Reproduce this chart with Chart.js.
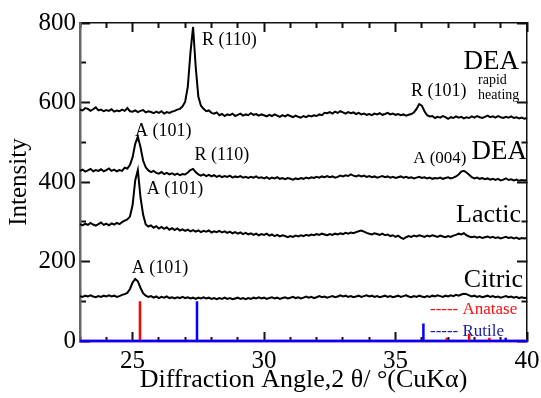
<!DOCTYPE html>
<html lang="en">
<head>
<meta charset="UTF-8">
<title>XRD patterns</title>
<script src="https://cdn.jsdelivr.net/npm/chart.js"></script>
<style>
  body { margin: 0; background: #fff; }
</style>
</head>
<body>
<canvas id="xrdChart" width="541" height="398"></canvas>
<script>
// 2theta grid (deg), 0.1 step
const angles = [
  23.0, 23.1, 23.2, 23.3, 23.4, 23.5, 23.6, 23.7, 23.8, 23.9,
  24.0, 24.1, 24.2, 24.3, 24.4, 24.5, 24.6, 24.7, 24.8, 24.9,
  25.0, 25.1, 25.2, 25.3, 25.4, 25.5, 25.6, 25.7, 25.8, 25.9,
  26.0, 26.1, 26.2, 26.3, 26.4, 26.5, 26.6, 26.7, 26.8, 26.9,
  27.0, 27.1, 27.2, 27.3, 27.4, 27.5, 27.6, 27.7, 27.8, 27.9,
  28.0, 28.1, 28.2, 28.3, 28.4, 28.5, 28.6, 28.7, 28.8, 28.9,
  29.0, 29.1, 29.2, 29.3, 29.4, 29.5, 29.6, 29.7, 29.8, 29.9,
  30.0, 30.1, 30.2, 30.3, 30.4, 30.5, 30.6, 30.7, 30.8, 30.9,
  31.0, 31.1, 31.2, 31.3, 31.4, 31.5, 31.6, 31.7, 31.8, 31.9,
  32.0, 32.1, 32.2, 32.3, 32.4, 32.5, 32.6, 32.7, 32.8, 32.9,
  33.0, 33.1, 33.2, 33.3, 33.4, 33.5, 33.6, 33.7, 33.8, 33.9,
  34.0, 34.1, 34.2, 34.3, 34.4, 34.5, 34.6, 34.7, 34.8, 34.9,
  35.0, 35.1, 35.2, 35.3, 35.4, 35.5, 35.6, 35.7, 35.8, 35.9,
  36.0, 36.1, 36.2, 36.3, 36.4, 36.5, 36.6, 36.7, 36.8, 36.9,
  37.0, 37.1, 37.2, 37.3, 37.4, 37.5, 37.6, 37.7, 37.8, 37.9,
  38.0, 38.1, 38.2, 38.3, 38.4, 38.5, 38.6, 38.7, 38.8, 38.9,
  39.0, 39.1, 39.2, 39.3, 39.4, 39.5, 39.6, 39.7, 39.8, 39.9,
  40.0
];

// intensities (offset traces)
const deaRapid = [
  582, 580, 586, 584, 579, 583, 588, 580, 582, 578,
  581, 579, 583, 577, 580, 578, 582, 579, 586, 578,
  577, 580, 576, 579, 581, 575, 578, 576, 573, 577,
  574, 578, 572, 576, 574, 577, 579, 582, 584, 590,
  602, 640, 725, 790, 690, 615, 592, 584, 578, 580,
  574, 572, 575, 568, 571, 566, 570, 568, 572, 566,
  569, 572, 567, 570, 568, 573, 569, 571, 567, 570,
  568, 565, 569, 566, 570, 567, 564, 568, 565, 569,
  566, 563, 567, 564, 562, 566, 563, 567, 565, 568,
  566, 570, 568, 574, 573, 576, 572, 577, 574, 578,
  575, 572, 576, 573, 575, 571, 574, 570, 572, 569,
  571, 568, 572, 570, 573, 569, 571, 574, 570, 572,
  569, 571, 568, 570, 567, 569, 571, 575, 584, 596,
  592, 578, 568, 565, 566, 561, 564, 562, 566, 563,
  559, 563, 561, 565, 562, 564, 560, 563, 561, 565,
  562, 566, 563, 561, 564, 567, 563, 565, 562, 566,
  563, 561, 564, 562, 565, 561, 563, 560, 562, 559,
  561
];

const dea = [
  428, 431, 426, 429, 433, 427, 430, 428, 432, 427,
  430, 434, 428, 431, 427, 430, 428, 436, 434, 443,
  462, 496, 514, 488, 454, 437, 429, 425, 428, 423,
  421, 425, 420, 423, 419, 422, 418, 421, 417, 420,
  419, 424, 430, 433, 425, 419, 416, 419, 415, 418,
  414, 417, 413, 416, 412, 415, 413, 416, 411, 414,
  412, 415, 411, 413, 410, 413, 411, 414, 410, 412,
  409, 412, 408, 411, 409, 412, 408, 410, 407, 410,
  408, 406, 409, 407, 410, 408, 411, 409, 412, 410,
  413, 411, 414, 412, 415, 412, 414, 411, 413, 416,
  414, 417, 415, 419, 416, 414, 417, 414, 416, 413,
  415, 412, 414, 411, 413, 415, 412, 414, 411, 413,
  410, 412, 414, 411, 413, 410, 412, 409, 411, 413,
  410, 412, 409, 411, 408, 410, 409, 411, 408, 410,
  412, 409, 411, 414, 419, 426, 428, 424, 418, 412,
  409, 411, 408, 410, 407, 409, 406, 408, 405, 408,
  404, 406, 409, 405, 407, 404, 406, 403, 405, 404,
  405
];

const lactic = [
  294, 291, 295, 292, 297, 293, 290, 294, 298, 292,
  295, 291, 296, 293, 297, 294, 299, 303, 306, 313,
  342, 404, 430, 362, 318, 293, 288, 291, 285, 289,
  283, 287, 282, 286, 280, 284, 279, 283, 278, 281,
  277, 280, 276, 279, 275, 278, 274, 277, 275, 278,
  273, 276, 274, 277, 273, 276, 272, 275, 271, 274,
  270, 273, 269, 272, 268, 271, 267, 270, 266, 269,
  267, 270, 265, 268, 264, 267, 263, 266, 264, 261,
  264, 262, 265, 263, 266, 264, 267, 265, 268, 266,
  269, 267, 270, 268, 266, 269, 267, 270, 268, 271,
  269, 272, 270, 273, 271, 274, 276, 278, 275, 272,
  270, 268, 271, 269, 267, 270, 266, 268, 264, 266,
  262, 265, 260, 257, 261, 264, 262, 265, 263, 266,
  264, 262, 265, 263, 266, 264, 262, 265, 263, 261,
  264, 262, 265, 267, 270, 268, 271, 266, 263, 261,
  263, 260, 262, 259, 261, 263, 260, 262, 259, 261,
  258, 260, 262, 259, 261, 258, 260, 257, 259, 258,
  259
];

const citric = [
  113, 111, 114, 112, 115, 112, 110, 113, 111, 114,
  112, 115, 112, 114, 111, 113, 116, 118, 121, 131,
  147, 156, 150, 134, 120, 114, 111, 113, 109, 112,
  108, 111, 109, 112, 108, 110, 107, 110, 108, 111,
  108, 110, 107, 109, 106, 109, 107, 110, 107, 109,
  106, 108, 105, 108, 106, 109, 106, 108, 105, 107,
  109, 106, 108, 105, 108, 106, 109, 107, 110, 107,
  109, 106, 108, 110, 107, 109, 106, 108, 110, 107,
  109, 111, 108, 110, 107, 109, 112, 109, 111, 108,
  110, 113, 110, 112, 109, 111, 113, 110, 112, 115,
  112, 114, 111, 113, 110, 112, 114, 111, 113, 115,
  112, 114, 111, 113, 110, 112, 114, 111, 113, 110,
  112, 114, 111, 113, 115, 112, 110, 113, 111, 114,
  112, 110, 113, 111, 114, 112, 115, 113, 111, 114,
  112, 115, 113, 116, 114, 117, 119, 118, 115, 112,
  114, 111, 113, 110, 112, 114, 111, 113, 110, 112,
  109, 111, 113, 110, 112, 109, 111, 108, 110, 108,
  109
];

// reference patterns (stick positions / relative heights)
const anataseAngles = [25.28, 36.95, 37.80, 38.57];
const anataseHeights = [100, 8, 18, 8];
const rutileAngles = [27.45, 36.06, 39.19];
const rutileHeights = [100, 44, 8];

const xMin = 23, xMax = 40;
const yMin = 0, yMax = 800;
const xTicks = [25, 30, 35, 40];
const xMinorTicks = [23, 24, 26, 27, 28, 29, 31, 32, 33, 34, 36, 37, 38, 39];
const yTicks = [0, 200, 400, 600, 800];
const yMinorTicks = [100, 300, 500, 700];

const serif = '"Liberation Serif", "Times New Roman", serif';

// text placed in data coordinates
const notes = [
  { text: 'R (110)', x: 27.64, y: 757, size: 18, align: 'left' },
  { text: 'DEA', x: 39.70, y: 702, size: 27, align: 'right' },
  { text: 'rapid', x: 38.14, y: 655, size: 14, align: 'left' },
  { text: 'heating', x: 38.14, y: 619, size: 14, align: 'left' },
  { text: 'R (101)', x: 35.59, y: 629, size: 18, align: 'left' },
  { text: 'A (101)', x: 25.09, y: 528, size: 18, align: 'left' },
  { text: 'R (110)', x: 27.35, y: 468, size: 18, align: 'left' },
  { text: 'A (004)', x: 35.67, y: 458, size: 17, align: 'left' },
  { text: 'DEA', x: 40.0, y: 475, size: 27, align: 'right' },
  { text: 'A (101)', x: 25.54, y: 382, size: 18, align: 'left' },
  { text: 'Lactic', x: 39.77, y: 317, size: 26, align: 'right' },
  { text: 'A (101)', x: 24.97, y: 184, size: 18, align: 'left' },
  { text: 'Citric', x: 39.85, y: 153, size: 26, align: 'right' },
  { text: '----- Anatase', x: 36.31, y: 80, size: 17, align: 'left', color: '#ff1010' },
  { text: '----- Rutile', x: 36.31, y: 25, size: 17, align: 'left', color: '#1c1ca8' }
];

const xAll = xTicks.concat(xMinorTicks).sort((a, b) => a - b);
const yAll = yTicks.concat(yMinorTicks).sort((a, b) => a - b);

function trace(values) {
  return angles.map((a, i) => ({ x: a, y: values[i] }));
}

function sticks(pos, heights) {
  const pts = [{ x: xMin, y: 0 }, { x: xMax, y: 0 }, { x: xMax, y: null }];
  pos.forEach((p, i) => {
    pts.push({ x: p, y: 0 }, { x: p, y: heights[i] }, { x: p, y: null });
  });
  return pts;
}

function lineSet(label, data, color, width) {
  return {
    label: label,
    data: data,
    borderColor: color,
    borderWidth: width,
    pointRadius: 0,
    tension: 0,
    fill: false,
    clip: 4
  };
}

// ticks point into the plot (negative tickLength); minor ones are shortened with a dash
function tickDash(majors, fromInside, full, short) {
  return c => {
    if (majors.includes(c.tick.value)) return [];
    return fromInside ? [0, full - short, short, 100] : [short, 100];
  };
}

function frameGrid(majors, fromInside, full, short) {
  return {
    drawOnChartArea: false,
    drawTicks: true,
    tickLength: -full,
    tickWidth: 2,
    tickColor: '#111',
    tickBorderDash: tickDash(majors, fromInside, full, short)
  };
}

// in-plot labels
const notesPlugin = {
  id: 'notes',
  afterDatasetsDraw(chart) {
    const ctx = chart.ctx;
    const sx = chart.scales.x, sy = chart.scales.y;
    ctx.save();
    ctx.textBaseline = 'middle';
    notes.forEach(n => {
      ctx.font = n.size + 'px ' + serif;
      ctx.fillStyle = n.color || '#000';
      ctx.textAlign = n.align;
      ctx.fillText(n.text, sx.getPixelForValue(n.x), sy.getPixelForValue(n.y));
    });
    ctx.restore();
  }
};

new Chart(document.getElementById('xrdChart'), {
  type: 'line',
  data: {
    datasets: [
      lineSet('DEA rapid heating', trace(deaRapid), '#000', 2),
      lineSet('DEA', trace(dea), '#000', 2),
      lineSet('Lactic', trace(lactic), '#000', 2),
      lineSet('Citric', trace(citric), '#000', 2),
      lineSet('Rutile', sticks(rutileAngles, rutileHeights), '#0000ff', 2.5),
      lineSet('Anatase', sticks(anataseAngles, anataseHeights), '#ff0000', 2.5)
    ]
  },
  options: {
    responsive: false,
    animation: false,
    events: [],
    layout: { padding: { top: 23, right: 14, left: 0, bottom: 0 } },
    plugins: {
      legend: { display: false },
      tooltip: { enabled: false }
    },
    scales: {
      x: {
        type: 'linear',
        position: 'bottom',
        min: xMin,
        max: xMax,
        grid: frameGrid(xTicks, false, 9, 5),
        border: { display: true, color: '#111', width: 1 },
        ticks: {
          autoSkip: false,
          padding: 14,
          color: '#000',
          font: { family: serif, size: 25 },
          maxRotation: 0,
          callback: v => (xTicks.includes(v) ? String(v) : '')
        },
        title: {
          display: true,
          text: 'Diffraction Angle,2 θ/ °(CuKα)',
          color: '#000',
          font: { family: serif, size: 26 },
          padding: { top: 0, bottom: 2 }
        },
        afterBuildTicks: scale => { scale.ticks = xAll.map(v => ({ value: v })); },
        afterFit: scale => {
          scale.height = 57;
          scale.paddingLeft = 0;
          scale.paddingRight = 0;
        }
      },
      xTop: {
        type: 'linear',
        position: 'top',
        min: xMin,
        max: xMax,
        grid: frameGrid(xTicks, true, 9, 5),
        border: { display: true, color: '#111', width: 1.5 },
        ticks: { display: false },
        afterBuildTicks: scale => { scale.ticks = xAll.map(v => ({ value: v })); },
        afterFit: scale => {
          scale.height = 0;
          scale.paddingLeft = 0;
          scale.paddingRight = 0;
        }
      },
      y: {
        position: 'left',
        min: yMin,
        max: yMax,
        grid: frameGrid(yTicks, true, 10, 6),
        border: { display: true, color: '#666', width: 2.5 },
        ticks: {
          autoSkip: false,
          padding: 14,
          color: '#000',
          font: { family: serif, size: 25 },
          callback: v => (yTicks.includes(v) ? String(v) : '')
        },
        title: {
          display: true,
          text: 'Intensity',
          color: '#000',
          font: { family: serif, size: 25 },
          padding: { top: 4, bottom: 0 }
        },
        afterBuildTicks: scale => { scale.ticks = yAll.map(v => ({ value: v })); },
        afterFit: scale => {
          scale.width = 80;
          scale.paddingTop = 0;
          scale.paddingBottom = 0;
        }
      },
      yRight: {
        position: 'right',
        min: yMin,
        max: yMax,
        grid: frameGrid(yTicks, false, 10, 6),
        border: { display: true, color: '#111', width: 1.5 },
        ticks: { display: false },
        afterBuildTicks: scale => { scale.ticks = yAll.map(v => ({ value: v })); },
        afterFit: scale => {
          scale.width = 0;
          scale.paddingTop = 0;
          scale.paddingBottom = 0;
        }
      }
    }
  },
  plugins: [notesPlugin]
});
</script>
</body>
</html>
